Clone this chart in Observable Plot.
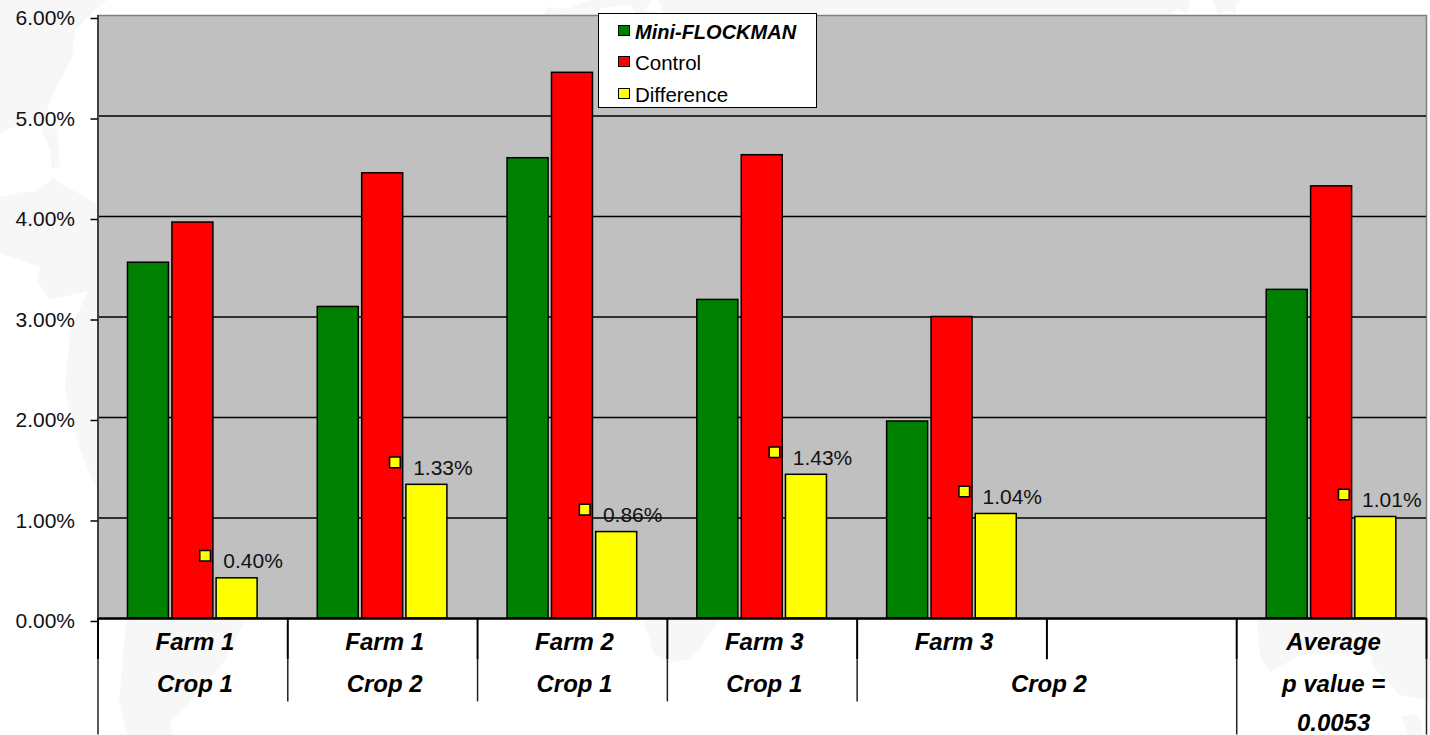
<!DOCTYPE html>
<html>
<head>
<meta charset="utf-8">
<script src="https://cdn.jsdelivr.net/npm/d3@7"></script>
<script src="https://cdn.jsdelivr.net/npm/@observablehq/plot@0.6"></script>
<style>
  html, body { margin: 0; padding: 0; background: #fff; }
  #chart { position: relative; width: 1430px; height: 735px; overflow: hidden; font-family: "Liberation Sans", Arial, sans-serif; }
  #chart svg { position: absolute; left: 0; top: 0; background: transparent; }
  #legend { position: absolute; left: 598px; top: 13px; width: 217px; height: 93px; background: #fff; border: 1.5px solid #000; font-size: 20.5px; color: #000; }
  #legend div { position: absolute; left: 36px; white-space: nowrap; line-height: 20px; }
  #legend i { position: absolute; left: -17px; top: 3px; width: 9.5px; height: 9.5px; border: 1.5px solid #000; }
</style>
</head>
<body>
<div id="chart"></div>
<script>
// Infestation percentages per trial, with the final slot holding the average.
const groups = [0, 1, 2, 3, 4, 6];
const miniFlockman = [3.54, 3.10, 4.58, 3.17, 1.96, 3.27];
const control = [3.94, 4.43, 5.43, 4.61, 3.00, 4.30];
const difference = [0.40, 1.33, 0.86, 1.43, 1.04, 1.01];

const seriesNames = ["Mini-FLOCKMAN", "Control", "Difference"];
const seriesColors = ["#008000", "#ff0000", "#ffff00"];
const seriesValues = [miniFlockman, control, difference];

const yTicks = [0, 1, 2, 3, 4, 5, 6];
const slotCount = 7;

// Category labels on three rows; each entry is [band position, text].
const rowOne = [[0.5, "Farm 1"], [1.5, "Farm 1"], [2.5, "Farm 2"], [3.5, "Farm 3"], [4.5, "Farm 3"], [6.5, "Average"]];
const rowTwo = [[0.5, "Crop 1"], [1.5, "Crop 2"], [2.5, "Crop 1"], [3.5, "Crop 1"], [5, "Crop 2"], [6.5, "p value ="]];
const rowThree = [[6.5, "0.0053"]];

// Band boundaries and how far each divider drops below the axis, in percent units.
const upperDividers = [0, 1, 2, 3, 4, 5, 6, 7];
const upperDrop = -0.41;
const lowerDividers = [[0, -1.16], [1, -0.83], [2, -0.83], [3, -0.83], [4, -0.83], [6, -1.16], [7, -1.16]];

// Each group holds three bars at fixed fractions of its band.
const barOffsets = [0.158, 0.392, 0.625];
const barWidth = 0.216;

// Pale world-map backdrop outlines.
const landShapes = [
  "0,0 107,0 97,8 75,30 72,57 55,90 47,110 42,130 50,150 52,168 60,167 57,130 30,120 0,133",
  "0,197 23,192 35,192 53,178 67,187 100,205 100,497 80,450 65,390 70,330 88,291 50,300 37,281 40,267 0,253",
  "127,618 124,640 123,663 119,700 127,735 172,735 170,720 185,707 223,663 240,630 245,618",
  "642,618 650,640 653,653 667,663 687,660 700,647 707,637 722,618",
  "1257,618 1260,657 1270,672 1300,655 1370,652 1373,667 1400,695 1430,700 1430,618",
  "1402,716 1418,715 1424,735 1408,735",
  "543,15 548,7 570,9 578,4 590,0 1190,0 1187,14 1178,8 1170,15",
  "1213,0 1243,0 1236,5 1236,15 1228,10 1218,15"
];
const seaShapes = [
  "598,15 600,8 630,5 635,12 640,15",
  "645,10 652,0 658,0 665,15"
];

const bars = seriesValues.flatMap((values, s) => values.map((v, i) => ({
  series: seriesNames[s],
  x1: groups[i] + barOffsets[s],
  x2: groups[i] + barOffsets[s] + barWidth,
  value: v
})));

const labels = difference.map((v, i) => ({
  x: groups[i] + barOffsets[2] + barWidth / 2,
  value: v
}));

const rowMark = (rows, dy) => Plot.text(rows, {
  x: d => d[0],
  y: () => 0,
  text: d => d[1],
  dx: 2,
  dy,
  fontWeight: "bold",
  fontStyle: "italic",
  fontSize: 24,
  fill: "#000"
});

const plot = Plot.plot({
  width: 1430,
  height: 735,
  marginLeft: 97.5,
  marginRight: 4,
  marginTop: 15,
  marginBottom: 117,
  style: { fontFamily: "Liberation Sans, Arial, sans-serif", background: "transparent", overflow: "visible" },
  x: { domain: [0, slotCount], axis: null },
  y: { domain: [0, 6] },
  color: { domain: seriesNames, range: seriesColors },
  marks: [
    Plot.frame({ fill: "#c0c0c0", stroke: "#808080", strokeWidth: 1.5 }),
    Plot.ruleY(yTicks.filter(t => t > 0 && t < 6), { stroke: "#000", strokeWidth: 1.5 }),
    Plot.rectY(bars, {
      x1: "x1",
      x2: "x2",
      y1: 0,
      y2: "value",
      fill: "series",
      stroke: "#000",
      strokeWidth: 1.5
    }),
    Plot.ruleX(upperDividers, { y1: 0, y2: upperDrop, stroke: "#000", strokeWidth: 2 }),
    Plot.ruleX(lowerDividers, {
      x: d => d[0],
      y1: upperDrop,
      y2: d => d[1],
      stroke: "#222",
      strokeWidth: 1.5
    }),
    Plot.ruleY([0], { stroke: "#000", strokeWidth: 2.5 }),
    Plot.ruleX([0], { stroke: "#404040", strokeWidth: 2 }),
    Plot.axisY({
      ticks: yTicks,
      tickFormat: d => d.toFixed(2) + "%",
      tickSize: 7,
      tickPadding: 16,
      fontSize: 21,
      stroke: "#000",
      strokeWidth: 1.5,
      fill: "#111",
      label: null,
      dy: 3
    }),
    rowMark(rowOne, 24),
    rowMark(rowTwo, 66),
    rowMark(rowThree, 104.5),
    // Data labels with their small legend key, placed from the difference values.
    Plot.dot(labels, {
      x: "x",
      y: "value",
      dx: -32,
      dy: -22.5,
      symbol: "square",
      r: 6,
      fill: "#ffff00",
      stroke: "#000",
      strokeWidth: 1.5
    }),
    Plot.text(labels, {
      x: "x",
      y: "value",
      dx: 16,
      dy: -17,
      text: d => d.value.toFixed(2) + "%",
      fontSize: 21,
      fill: "#111"
    })
  ]
});

const chart = document.getElementById("chart");

// Backdrop goes first so the chart paints over it.
const svgNS = "http://www.w3.org/2000/svg";
const backdrop = document.createElementNS(svgNS, "svg");
backdrop.setAttribute("width", 1430);
backdrop.setAttribute("height", 735);
const addShapes = (shapes, fill) => shapes.forEach(points => {
  const p = document.createElementNS(svgNS, "polygon");
  p.setAttribute("points", points);
  p.setAttribute("fill", fill);
  backdrop.append(p);
});
addShapes(landShapes, "#f7f7f7");
addShapes(seaShapes, "#ffffff");
chart.append(backdrop);
chart.append(plot);

// Legend box sitting over the top of the plot area.
const legend = document.createElement("div");
legend.id = "legend";
const tops = [7.5, 38.5, 70.5];
seriesNames.forEach((name, i) => {
  const row = document.createElement("div");
  row.style.top = tops[i] + "px";
  if (i === 0) { row.style.fontWeight = "bold"; row.style.fontStyle = "italic"; row.style.fontSize = "20px"; }
  const key = document.createElement("i");
  key.style.background = seriesColors[i];
  row.append(key, document.createTextNode(name));
  legend.append(row);
});
chart.append(legend);
</script>
</body>
</html>
